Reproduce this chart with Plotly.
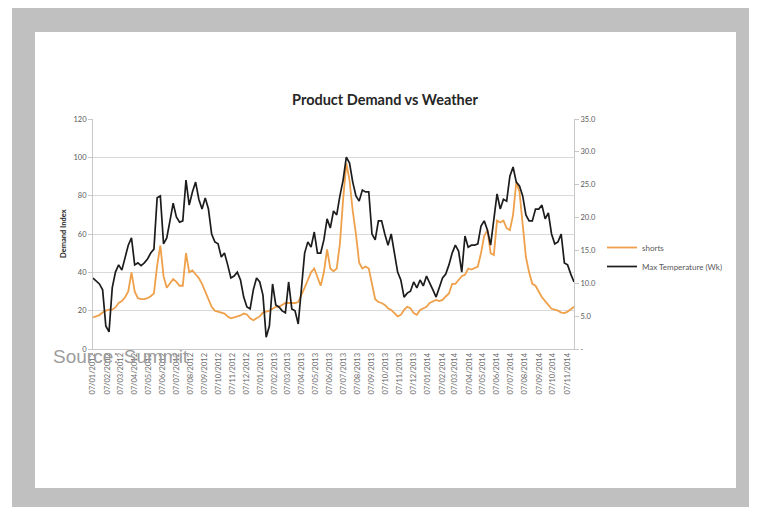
import pandas as pd
import plotly.graph_objects as go

# ---- data (weekly, starting 07/01/2012) ----
start_date = "2012-01-07"

shorts = [16.5, 17, 17.7, 19, 20, 20.5, 20.5, 21.7, 24, 25,
          27, 30, 40, 30, 26.5, 26, 26, 26.5, 27.5, 29,
          43.5, 54, 38, 32, 34, 36.5, 35, 33, 33, 50,
          40, 41, 39, 37, 34, 30, 25, 22, 20, 19.5,
          19, 18.5, 17, 16, 16.5, 17, 17.5, 18.5, 18, 16,
          15, 16, 17, 19, 19.5, 20, 21, 22, 22, 23,
          24, 24, 24, 24, 24.5, 28, 32, 36, 40, 42,
          38, 33, 40, 52, 42, 40.5, 42, 55, 78, 97,
          88, 72, 60, 45, 42, 43, 42, 33, 26, 24.5,
          24, 23, 21.3, 20.4, 18.7, 17, 17.8, 20.4, 22, 21.3,
          18.7, 17.8, 20.4, 21.3, 22, 24, 24.8, 25.6, 25, 25.6,
          27.4, 29, 34, 34, 36, 38, 38.7, 42, 41.4, 42,
          43, 50, 59, 62, 50, 49, 67, 66, 67, 63,
          62, 70, 87, 82, 64, 48, 40, 34, 33, 30,
          27, 25, 23, 21, 20.5, 20, 19, 18.7, 19.5, 21,
          22]

max_temp = [10.8, 10.4, 9.9, 9.0, 3.5, 2.6, 9.3, 11.7, 12.8, 12.0,
            13.7, 15.8, 16.9, 12.8, 13.1, 12.7, 13.1, 13.7, 14.6, 15.2,
            23.0, 23.3, 16.0, 16.9, 19.5, 22.2, 20.1, 19.3, 19.5, 25.7,
            21.9, 23.9, 25.4, 22.8, 21.3, 23.0, 21.3, 17.5, 16.3, 16.0,
            14.0, 14.6, 12.8, 10.8, 11.1, 11.7, 10.5, 7.9, 6.4, 6.1,
            9.0, 10.8, 10.2, 8.2, 1.8, 3.5, 9.9, 6.7, 6.4, 5.8,
            5.5, 10.2, 6.1, 5.8, 3.8, 8.8, 14.6, 16.3, 15.5, 17.8,
            14.6, 14.6, 16.6, 19.8, 18.4, 21.0, 20.4, 23.3, 25.7, 29.2,
            28.3, 25.4, 23.3, 22.5, 24.2, 23.9, 23.9, 17.5, 16.6, 19.5,
            19.5, 17.5, 15.8, 17.5, 14.9, 11.7, 10.5, 7.9, 8.5, 8.8,
            10.2, 9.3, 10.5, 9.6, 11.1, 9.9, 9.0, 7.9, 9.3, 10.8,
            11.4, 12.8, 14.6, 15.8, 14.9, 11.7, 17.2, 15.5, 15.8, 15.8,
            16.0, 18.7, 19.5, 18.1, 15.8, 20.1, 23.6, 21.3, 22.8, 22.5,
            26.3, 27.7, 25.4, 24.8, 23.3, 20.4, 19.5, 19.5, 21.3, 21.3,
            21.9, 19.8, 20.7, 17.5, 16.0, 16.3, 17.5, 13.1, 12.8, 11.4,
            10.2]

right_tickvals = [0, 5, 10, 15, 20, 25, 30, 35]
right_ticktext = ["-", "5.0", "10.0", "15.0", "20.0", "25.0", "30.0", "35.0"]

dates = pd.date_range(start_date, periods=len(shorts), freq="7D")

W, H = 760, 507
L, R, T, B = 93, 574, 119, 349  # plot area in pixels
pw, ph = R - L, B - T


def px(x):
    return (x - L) / pw


def py(y):
    return (B - y) / ph


fig = go.Figure()
fig.add_trace(go.Scatter(x=dates, y=shorts, name="shorts", mode="lines",
                         line=dict(color="#EFA04A", width=1.8), yaxis="y"))
fig.add_trace(go.Scatter(x=dates, y=max_temp, name="Max Temperature (Wk)", mode="lines",
                         line=dict(color="#1c1c1c", width=1.7), yaxis="y2"))

tickfont = dict(family="Lato, Open Sans, sans-serif", size=7.5, color="#595959")
xtickfont = dict(family="Lato, Open Sans, sans-serif", size=7.5, color="#6a6a6a")

fig.update_layout(
    width=W, height=H,
    margin=dict(l=L, r=W - R, t=T, b=H - B),
    paper_bgcolor="white", plot_bgcolor="white",
    showlegend=True,
    font=dict(family="Lato, Open Sans, sans-serif"),
    title=dict(text="<b>Product Demand vs Weather</b>", xref="container", yref="container",
               x=385 / W, y=1 - 100 / H, xanchor="center", yanchor="middle",
               font=dict(family="Lato, Open Sans, sans-serif", size=14.5, color="#262626")),
    xaxis=dict(type="date", range=[dates[0], dates[-1]],
               tick0=start_date, dtick="M1", tickformat="%d/%m/%Y",
               tickangle=-90, tickfont=xtickfont, showgrid=False,
               showline=True, linecolor="#c8c8c8", linewidth=1, ticks="", zeroline=False),
    yaxis=dict(range=[0, 120], dtick=20, tickfont=tickfont, showgrid=True,
               gridcolor="#d9d9d9", gridwidth=1, showline=True, linecolor="#c8c8c8",
               ticks="outside", ticklen=4, tickcolor="#c8c8c8", zeroline=False),
    yaxis2=dict(range=[0, 35], overlaying="y", side="right", tickvals=right_tickvals,
                ticktext=right_ticktext, tickfont=tickfont, showgrid=False,
                showline=True, linecolor="#c8c8c8", ticks="outside", ticklen=4,
                tickcolor="#c8c8c8", zeroline=False),
    legend=dict(x=px(602), y=py(257), xanchor="left", yanchor="middle",
                font=dict(family="Lato, Open Sans, sans-serif", size=8, color="#595959"),
                bgcolor="rgba(0,0,0,0)", itemwidth=30, tracegroupgap=0),
    shapes=[
        dict(type="rect", xref="paper", yref="paper", x0=px(12), x1=px(749),
             y0=py(510), y1=py(8), fillcolor="#c0c0c0", line=dict(width=0), layer="below"),
        dict(type="rect", xref="paper", yref="paper", x0=px(35), x1=px(736),
             y0=py(488), y1=py(32), fillcolor="white", line=dict(width=0), layer="below"),
    ],
    annotations=[
        dict(text="<b>Demand Index</b>", xref="paper", yref="paper", x=px(63), y=0.5,
             textangle=-90, showarrow=False, xanchor="center", yanchor="middle",
             font=dict(family="Lato, Open Sans, sans-serif", size=7.5, color="#262626")),
        dict(text="Source: Summit", xref="paper", yref="paper", x=px(51), y=py(356),
             xanchor="left", yanchor="middle", showarrow=False,
             font=dict(family="Liberation Sans, Arial, sans-serif", size=19, color="#9c9c9c")),
    ],
)

fig.write_html("out.html")
